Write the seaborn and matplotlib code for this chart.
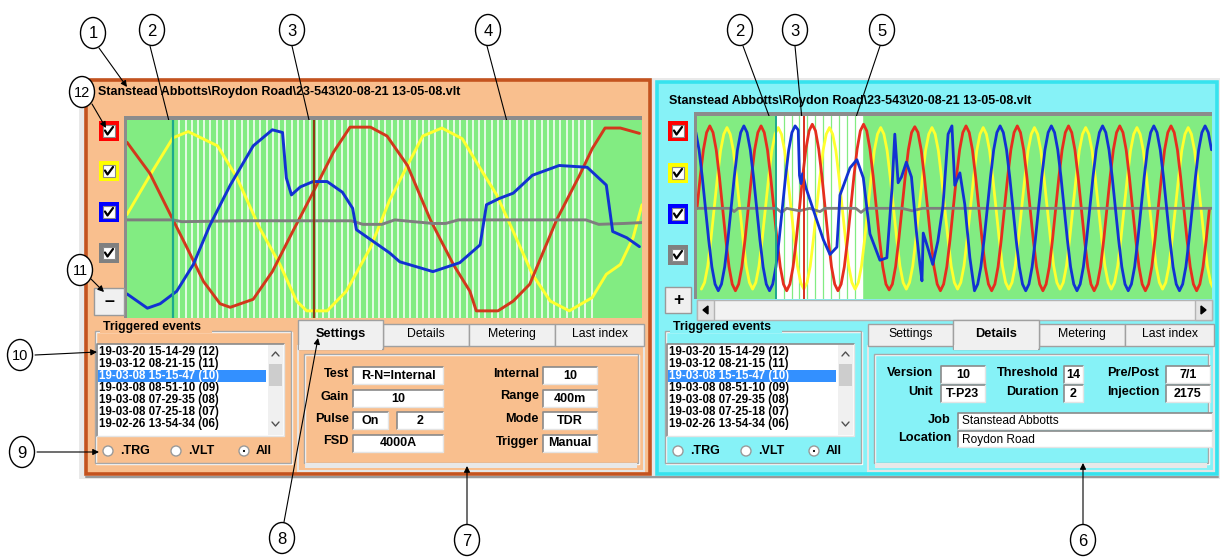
import numpy as np
import pandas as pd
import matplotlib.pyplot as plt
import seaborn as sns
from matplotlib.patches import Rectangle, Ellipse, Circle

sns.set_style("white")
plt.rcParams['font.family'] = ['Liberation Sans', 'DejaVu Sans']

# ---------------- data ----------------
title = "Stanstead Abbotts\\Roydon Road\\23-543\\20-08-21 13-05-08.vlt"

events = ["19-03-20 15-14-29 (12)", "19-03-12 08-21-15 (11)", "19-03-08 15-15-47 (10)",
          "19-03-08 08-51-10 (09)", "19-03-08 07-29-35 (08)", "19-03-08 07-25-18 (07)",
          "19-02-26 13-54-34 (06)"]
selected_event = 2
tabs = ["Settings", "Details", "Metering", "Last index"]

settings_left = [("Test", "R-N=Internal"), ("Gain", "10"), ("Pulse", "On"), ("FSD", "4000A")]
pulse_count = "2"
settings_right = [("Internal", "10"), ("Range", "400m"), ("Mode", "TDR"), ("Trigger", "Manual")]

details_row1 = [("Version", "10"), ("Threshold", "14"), ("Pre/Post", "7/1")]
details_row2 = [("Unit", "T-P23"), ("Duration", "2"), ("Injection", "2175")]
details_text = [("Job", "Stanstead Abbotts"), ("Location", "Roydon Road")]

# zoomed waveform (left), time in ms, amplitude relative to full scale
left_t_yellow = [0.0, 1.8, 3.6, 4.8, 7.1, 8.6, 10.4, 12.0, 13.3, 14.1, 15.7, 17.2, 19.1, 20.6, 22.0,
                 23.2, 24.7, 26.3, 27.7, 29.0, 30.3, 31.8, 33.2, 34.7, 36.5, 37.6, 38.7, 39.7, 40.4]
left_v_yellow = [0.06, 0.50, 0.92, 0.99, 0.83, 0.48, -0.09, -0.50, -0.91, -1.02, -1.02, -0.80, -0.31, 0.22, 0.61,
                 0.94, 1.03, 0.91, 0.58, 0.28, -0.13, -0.61, -0.91, -1.02, -0.87, -0.61, -0.50, -0.20, 0.17]
left_t_red = [0.0, 1.8, 3.4, 4.7, 6.0, 7.3, 8.1, 9.9, 11.4, 13.0, 14.6, 16.2, 17.5, 19.1, 20.4,
              22.0, 23.8, 25.6, 26.9, 27.4, 29.1, 30.3, 31.6, 33.7, 35.5, 36.5, 37.5, 38.7, 40.2]
left_v_red = [0.87, 0.52, 0.06, -0.31, -0.69, -0.94, -0.98, -0.89, -0.58, -0.13, 0.31, 0.76, 1.04, 1.04, 0.94,
              0.61, 0.0, -0.50, -0.80, -1.02, -1.02, -0.91, -0.72, 0.0, 0.50, 0.80, 1.03, 1.03, 0.97]
left_t_blue = [0.0, 1.6, 2.6, 3.9, 5.2, 6.5, 8.1, 9.9, 11.4, 12.2, 12.5, 12.9, 13.6, 14.6, 15.7, 16.9, 17.7,
               18.0, 19.3, 20.6, 21.4, 24.0, 26.1, 27.7, 28.2, 29.2, 30.3, 31.8, 33.9, 36.1, 37.6, 38.1, 39.2, 40.2]
left_v_blue = [-0.83, -0.99, -0.94, -0.80, -0.50, -0.06, 0.39, 0.83, 1.01, 0.98, 0.47, 0.28, 0.37, 0.43, 0.43, 0.31, 0.13,
               -0.11, -0.24, -0.37, -0.47, -0.58, -0.48, -0.28, 0.17, 0.24, 0.30, 0.50, 0.61, 0.59, 0.39, -0.13, -0.20, -0.30]
left_t_gray = [0.0, 3.6, 4.3, 9.0, 17.6, 18.5, 20.0, 21.0, 24.0, 25.0, 26.0, 36.0, 37.0, 39.0, 40.4]
left_v_gray = [0.0, 0.0, -0.02, -0.01, -0.01, -0.05, -0.05, 0.0, -0.04, -0.04, 0.0, 0.0, -0.05, -0.04, -0.03]
left_cursors = [3.6, 14.7]

# full record (right), one sample every 1.25 ms from the given start time
SAMPLE_MS = 1.25
right_start_red = 0.0
right_v_red = [0.0, 0.38, 0.71, 0.92, 1.0, 0.92, 0.71, 0.38, 0.0, -0.38, -0.71, -0.92, -1.0, -0.92, -0.71, -0.38,
               0.0, 0.38, 0.71, 0.92, 1.0, 0.92, 0.71, 0.38, 0.0, -0.38, -0.71, -0.92, -1.0, -0.92, -0.71, -0.38,
               0.0, 0.39, 0.72, 0.94, 1.02, 0.94, 0.72, 0.39, 0.0, -0.38, -0.71, -0.92, -1.0, -0.92, -0.71, -0.38,
               0.0, 0.39, 0.72, 0.94, 1.02, 0.94, 0.72, 0.39, 0.0, -0.38, -0.71, -0.92, -0.99, -0.92, -0.71, -0.38,
               0.0, 0.38, 0.71, 0.92, 0.99, 0.92, 0.71, 0.38, 0.0, -0.38, -0.71, -0.92, -1.0, -0.92, -0.71, -0.38,
               0.0, 0.38, 0.71, 0.92, 1.0, 0.92, 0.71, 0.38, 0.0, -0.38, -0.71, -0.92, -1.0, -0.92, -0.71, -0.38,
               0.0, 0.38, 0.71, 0.92, 1.0, 0.92, 0.71, 0.38, 0.0, -0.38, -0.71, -0.92, -1.0, -0.92, -0.71, -0.38,
               0.0, 0.38, 0.71, 0.92, 1.0, 0.92, 0.71, 0.38, 0.0, -0.38, -0.71, -0.92, -1.0, -0.92, -0.71, -0.38,
               0.0, 0.38, 0.71, 0.92, 1.0, 0.92, 0.71, 0.38, 0.0, -0.38, -0.71, -0.92, -1.0, -0.92, -0.71, -0.38,
               0.0, 0.38, 0.71, 0.92, 1.0, 0.92, 0.71, 0.38, 0.0, -0.38, -0.71, -0.92, -1.0, -0.92, -0.71, -0.38,
               0.0]
right_start_yellow = 1.7
right_v_yellow = [-0.98, -0.9, -0.7, -0.37, 0.0, 0.37, 0.7, 0.9, 0.98, 0.9, 0.7, 0.37, 0.0, -0.37, -0.7, -0.9,
                  -0.98, -0.9, -0.7, -0.37, 0.0, 0.37, 0.7, 0.9, 0.98, 0.9, 0.7, 0.37, 0.0, -0.37, -0.7, -0.9,
                  -0.98, -0.9, -0.7, -0.37, 0.0, 0.37, 0.7, 0.9, 0.98, 0.9, 0.7, 0.37, 0.0, -0.37, -0.7, -0.9,
                  -0.98, -0.9, -0.7, -0.37, 0.0, 0.37, 0.7, 0.9, 0.98, 0.9, 0.7, 0.37, 0.0, -0.37, -0.7, -0.9,
                  -0.98, -0.9, -0.7, -0.37, 0.0, 0.37, 0.7, 0.9, 0.98, 0.9, 0.7, 0.37, 0.0, -0.37, -0.7, -0.9,
                  -0.98, -0.9, -0.7, -0.37, 0.0, 0.37, 0.7, 0.9, 0.98, 0.9, 0.7, 0.37, 0.0, -0.37, -0.7, -0.9,
                  -0.98, -0.9, -0.7, -0.37, 0.0, 0.37, 0.7, 0.9, 0.98, 0.9, 0.7, 0.37, 0.0, -0.37, -0.7, -0.9,
                  -0.98, -0.9, -0.7, -0.37, 0.0, 0.37, 0.7, 0.9, 0.98, 0.9, 0.7, 0.37, 0.0, -0.37, -0.7, -0.9,
                  -0.98, -0.9, -0.7, -0.37, 0.0, 0.37, 0.7, 0.9, 0.98, 0.9, 0.7, 0.37, 0.0, -0.37, -0.7, -0.9,
                  -0.98, -0.9, -0.7, -0.37, 0.0, 0.37, 0.7, 0.9, 0.98, 0.9, 0.7, 0.37, 0.0, -0.37, -0.7, -0.9,
                  -0.98]
# blue: steady, then the disturbance (read point by point), then steady again
right_start_blue_pre = -1.7
right_v_blue_pre = [1.0, 0.92, 0.71, 0.38, 0.0, -0.38, -0.71, -0.92, -1.0, -0.92, -0.71, -0.38, 0.0, 0.38, 0.71, 0.92,
                    1.0, 0.92, 0.71, 0.38, 0.0, -0.38, -0.71, -0.92, -1.0, -0.92, -0.71, -0.38, 0.0, 0.38, 0.71, 0.92,
                    1.0]
right_t_blue_fault = [39.5, 40.0, 40.6, 41.2, 42.5, 45.2, 49.3, 51.9, 54.6, 55.8, 59.7, 62.4, 64.9, 67.5, 71.4, 74.1,
                      76.1, 77.2, 78.5, 79.8, 81.7, 83.7, 85.8, 87.0, 87.8, 88.3, 89.6, 92.0, 94.0, 96.0, 98.0, 99.5,
                      100.6, 102.6, 104.5, 106.5]
right_v_blue_fault = [0.95, 0.40, 0.30, 0.42, 0.25, 0.0, -0.38, -0.56, -0.47, 0.16, 0.49, 0.59, 0.37, -0.31, -0.63, -0.60,
                      0.24, 0.90, 0.31, 0.38, 0.56, 0.38, -0.34, -0.68, -0.88, -0.30, -0.43, -0.68, -0.40, 0.03, 0.90, 1.0,
                      0.28, 0.43, 0.05, -0.60]
right_start_blue_post = 108.3
right_v_blue_post = [-1.0, -0.92, -0.71, -0.38, 0.0, 0.38, 0.71, 0.92, 1.0, 0.92, 0.71, 0.38, 0.0, -0.38, -0.71, -0.92,
                     -1.0, -0.92, -0.71, -0.38, 0.0, 0.38, 0.71, 0.92, 1.0, 0.92, 0.71, 0.38, 0.0, -0.38, -0.71, -0.92,
                     -1.0, -0.92, -0.71, -0.38, 0.0, 0.38, 0.71, 0.92, 1.0, 0.92, 0.71, 0.38, 0.0, -0.38, -0.71, -0.92,
                     -1.0, -0.92, -0.71, -0.38, 0.0, 0.38, 0.71, 0.92, 1.0, 0.92, 0.71, 0.38, 0.0, -0.38, -0.71, -0.92,
                     -1.0, -0.92, -0.71, -0.38, 0.0, 0.38, 0.71, 0.92, 1.0, 0.92, 0.71]
right_t_gray = [0.0, 13.0, 14.5, 16.0, 31.0, 33.0, 35.0, 40.0, 44.0, 48.0, 50.0, 62.0, 64.0, 66.0, 80.0, 84.0,
                88.0, 95.0, 201.0]
right_v_gray = [0.0, 0.0, -0.04, 0.0, 0.0, -0.05, 0.0, -0.03, 0.0, -0.04, 0.0, 0.0, -0.05, 0.0, 0.0, -0.03,
                0.0, 0.0, 0.0]
right_cursors = [30.8, 41.7]
right_window = [30.8, 64.3]


def sample_times(start, values):
    return np.round(start + SAMPLE_MS * np.arange(len(values)), 2)


# ---------------- styling ----------------
W, H = 1220, 557
ORANGE, ORANGE_EDGE = "#F9BF8E", "#C4531F"
CYAN, CYAN_EDGE = "#86F2F7", "#36E3EE"
GREEN = "#82EC82"
BTN = "#F0F0F0"
PHASES = ["yellow", "red", "gray", "blue"]

fig = plt.figure(figsize=(W / 100, H / 100), dpi=100)
bg = fig.add_axes([0, 0, 1, 1])
bg.set_xlim(0, W)
bg.set_ylim(H, 0)
bg.axis('off')


def rect(x0, y0, x1, y1, fc, ec='none', lw=0, z=1):
    bg.add_patch(Rectangle((x0, y0), x1 - x0, y1 - y0, fc=fc, ec=ec, lw=lw, zorder=z))


def txt(x, y, s, size=8.5, weight='bold', ha='left', color='black', z=5, **kw):
    bg.text(x, y, s, fontsize=size, fontweight=weight, ha=ha, va='center', color=color, zorder=z, **kw)


def sunken(x0, y0, x1, y1, z=3):
    rect(x0, y0, x1, y1, 'white', z=z)
    bg.plot([x0, x0, x1], [y1, y0, y0], color='#8A8A8A', lw=1.2, zorder=z + 0.1)
    bg.plot([x1, x1, x0], [y0, y1, y1], color='#E4E4E4', lw=1.0, zorder=z + 0.1)


def field(x0, y0, x1, y1, s, weight='bold', ha='center', size=9):
    sunken(x0, y0, x1, y1)
    xt = (x0 + x1) / 2 if ha == 'center' else x0 + 4
    txt(xt, (y0 + y1) / 2 + 0.5, s, size=size, weight=weight, ha=ha)


def checkbox(cx, cy, color):
    rect(cx - 10, cy - 10, cx + 10, cy + 10, color, z=3)
    rect(cx - 6, cy - 6, cx + 6, cy + 6, 'white', ec='#8A8A8A', lw=0.8, z=4)
    bg.plot([cx - 4, cx - 1.5, cx + 4], [cy - 0.5, cy + 3.5, cy - 4], color='black', lw=1.6, zorder=5)


def button(x0, y0, x1, y1, s):
    rect(x0, y0, x1, y1, BTN, ec='#9A9A9A', lw=1, z=3)
    txt((x0 + x1) / 2, (y0 + y1) / 2, s, size=13, ha='center')


def etched(x0, y0, x1, y1, z=2):
    rect(x0 + 1, y0 + 1, x1 + 1, y1 + 1, 'none', ec='white', lw=1, z=z)
    rect(x0, y0, x1, y1, 'none', ec='#A8A8A8', lw=1, z=z)


def events_box(dx, face):
    etched(95 + dx, 331, 291 + dx, 463)
    rect(100 + dx, 322, 212 + dx, 333, face, z=2.5)
    txt(103 + dx, 327, "Triggered events", size=8.8)
    sunken(97 + dx, 344, 284 + dx, 436)
    rect(268 + dx, 345, 283 + dx, 435, '#F0F0F0', z=3.5)
    rect(269 + dx, 364, 282 + dx, 386, '#CDCDCD', z=3.6)
    bg.plot([272 + dx, 275.5 + dx, 279 + dx], [356, 352, 356], color='#505050', lw=1, zorder=4)
    bg.plot([272 + dx, 275.5 + dx, 279 + dx], [422, 426, 422], color='#505050', lw=1, zorder=4)
    for i, ev in enumerate(events):
        y = 352 + 12 * i
        color = 'black'
        if i == selected_event:
            rect(98 + dx, y - 6, 266 + dx, y + 6, '#3390FF', z=3.5)
            color = 'white'
        txt(99 + dx, y + 0.5, ev, size=8.3, color=color)
    for rx, lab, on in [(108, ".TRG", False), (176, ".VLT", False), (244, "All", True)]:
        bg.add_patch(Circle((rx + dx, 451), 5, fc='white', ec='#9A9A9A', lw=1, zorder=3))
        if on:
            bg.add_patch(Circle((rx + dx, 451), 1.8, fc='black', zorder=4))
        txt(rx + 12 + dx, 451, lab, size=9)


def tab_strip(x0, active, face):
    widths = [85, 86, 86, 89]
    x = x0
    for i, (name, w) in enumerate(zip(tabs, widths)):
        if i == active:
            rect(x, 320, x + w, 349, BTN, ec='#A0A0A0', lw=1, z=3.2)
            rect(x + 1, 345, x + w - 1, 350, BTN, z=3.3)
            txt(x + w / 2, 334, name, size=9.2, ha='center')
        else:
            rect(x, 324, x + w, 346, BTN, ec='#A0A0A0', lw=1, z=3)
            txt(x + w / 2, 334, name, size=8.8, weight='normal', ha='center')
        x += w
    rect(x0, 346, x, 471, face, ec='#E6E6E6', lw=1.5, z=2.6)
    etched(x0 + 6, 354, x - 6, 463, z=2.8)
    rect(x0 + 7, 463, x - 7, 468, '#E8E8E8', z=2.8)


def chart(x0, y0, x1, y1, t_sets, xmax, reds, lw):
    rect(x0 - 3, y0 - 4, x1, y0, '#8C8C8C', z=2)
    rect(x0 - 3, y0 - 4, x0, y1, '#8C8C8C', z=2)
    ax = fig.add_axes([x0 / W, 1 - y1 / H, (x1 - x0) / W, (y1 - y0) / H])
    ax.set_facecolor(GREEN)
    frames = []
    for name, (tt, vv) in zip(PHASES, t_sets):
        frames.append(pd.DataFrame({'t': tt, 'v': vv, 'phase': name}))
    df = pd.concat(frames, ignore_index=True)
    pal = {'yellow': '#FFFF2E', 'red': reds, 'gray': '#7E7E7E', 'blue': '#1232D2'}
    sns.lineplot(data=df, x='t', y='v', hue='phase', palette=pal, hue_order=PHASES,
                 estimator=None, sort=False, lw=lw, legend=False, ax=ax, zorder=3)
    ax.set_xlim(0, xmax)
    ax.set_ylim(-1.1, 1.12)
    ax.set_xticks([])
    ax.set_yticks([])
    ax.set_xlabel('')
    ax.set_ylabel('')
    for s in ax.spines.values():
        s.set_visible(False)
    return ax


# background panels
rect(79, 78, 1220, 479, '#E9E9E9', z=0.5)
rect(86, 80, 650, 474, ORANGE, ec=ORANGE_EDGE, lw=2.6, z=1)
rect(657, 82, 1217, 474, CYAN, ec=CYAN_EDGE, lw=2.6, z=1)
bg.plot([86, 1218], [477, 477], color='#9A9A9A', lw=1.5, zorder=1)

txt(98, 92, title, size=9)
txt(669, 101, title, size=9)

for cy, col in zip([131, 171, 212, 253], ['#FF0000', '#FFFF00', '#0000FF', '#808080']):
    checkbox(109, cy, col)
for cy, col in zip([131, 173, 214, 255], ['#FF0000', '#FFFF00', '#0000FF', '#808080']):
    checkbox(678, cy, col)
button(94, 288, 124, 315, "\u2013")
button(665, 287, 691, 313, "+")

events_box(0, ORANGE)
events_box(570, CYAN)

# left chart
axl = chart(127, 120, 642, 318,
            [(left_t_yellow, left_v_yellow), (left_t_red, left_v_red),
             (left_t_gray, left_v_gray), (left_t_blue, left_v_blue)],
            40.4, '#D2381C', 2.1)
axl.vlines(np.arange(4.1, 36.9, 0.49), -1.2, 1.2, color='white', lw=1.1, zorder=1)
axl.axvline(left_cursors[0], color='#1DA88E', lw=1.6, zorder=5)
axl.axvline(left_cursors[1], color='#8E3A12', lw=1.6, zorder=5)

# right chart
right_t_blue = np.concatenate([sample_times(right_start_blue_pre, right_v_blue_pre), right_t_blue_fault,
                               sample_times(right_start_blue_post, right_v_blue_post)])
right_v_blue = right_v_blue_pre + right_v_blue_fault + right_v_blue_post
axr = chart(697, 116, 1212, 299,
            [(sample_times(right_start_yellow, right_v_yellow), right_v_yellow),
             (sample_times(right_start_red, right_v_red), right_v_red),
             (right_t_gray, right_v_gray), (right_t_blue, right_v_blue)],
            201.0, '#E62E1E', 2.0)
axr.axvspan(right_window[0], right_window[1], color='white', zorder=0.5)
axr.vlines(np.arange(right_window[0] + 3.0, right_window[1], 3.1), -1.2, 1.2, color=GREEN, lw=0.9, zorder=1)
axr.axvline(right_cursors[0], color='#1DA88E', lw=1.4, zorder=5)
axr.axvline(right_cursors[1], color='#D8301E', lw=1.4, zorder=5)

# right scrollbar
rect(697, 300, 1212, 320, '#F2F2F2', ec='#B4B4B4', lw=1, z=2)
rect(697, 300, 714, 320, '#E4E4E4', ec='#B4B4B4', lw=1, z=2.1)
rect(1195, 300, 1212, 320, '#E4E4E4', ec='#B4B4B4', lw=1, z=2.1)
bg.add_patch(plt.Polygon([[703, 310], [708, 306], [708, 314]], color='black', zorder=3))
bg.add_patch(plt.Polygon([[1206, 310], [1201, 306], [1201, 314]], color='black', zorder=3))

# tabs
tab_strip(298, 0, ORANGE)
tab_strip(868, 1, CYAN)

# settings page
for i, (lab, val) in enumerate(settings_left):
    y = 375 + 22.5 * i
    txt(349, y - 1, lab, size=9.2, ha='right')
    if lab == "Pulse":
        field(353, y - 8, 388, y + 9, val)
        field(397, y - 8, 443, y + 9, pulse_count)
    else:
        field(353, y - 8, 443, y + 9, val)
for i, (lab, val) in enumerate(settings_right):
    y = 375 + 22.5 * i
    txt(539, y - 1, lab, size=9.2, ha='right')
    field(543, y - 8, 597, y + 9, val)

# details page
for y, row in [(374, details_row1), (393, details_row2)]:
    for (lab, val), (lx, bx0, bx1) in zip(row, [(933, 941, 985), (1059, 1064, 1083), (1159, 1166, 1210)]):
        txt(lx, y - 1, lab, size=9.2, ha='right')
        field(bx0, y - 8, bx1, y + 9, val)
for i, (lab, val) in enumerate(details_text):
    y = 421 + 18 * i
    txt(951, y - 1, lab, size=9.2, ha='right')
    field(958, y - 8, 1212, y + 8, val, weight='normal', ha='left', size=8.6)

# callouts
callouts = [("1", 93, 33, (99, 48), (127, 87)), ("2", 152, 30, (150, 46), (172, 133)),
            ("3", 292, 30, (292, 46), (312, 133)), ("4", 488, 30, (487, 46), (510, 133)),
            ("12", 82, 92, (92, 104), (106, 128)), ("11", 80, 270, (91, 279), (104, 292)),
            ("10", 20, 355, (35, 355), (97, 352)), ("9", 22, 452, (37, 452), (99, 452)),
            ("8", 282, 538, (284, 522), (318, 338)), ("7", 467, 540, (467, 524), (467, 466)),
            ("6", 1083, 540, (1083, 524), (1083, 463)), ("2", 740, 30, (743, 46), (775, 132)),
            ("3", 795, 30, (795, 46), (803, 130)), ("5", 882, 30, (880, 46), (850, 135))]
for num, cx, cy, start, end in callouts:
    bg.add_patch(Ellipse((cx, cy), 25, 31, fc='white', ec='black', lw=1, zorder=6))
    txt(cx, cy + 1, num, size=12 if len(num) == 1 else 10.5, weight='normal', ha='center', z=7)
    bg.annotate('', xy=end, xytext=start, zorder=8,
                arrowprops=dict(arrowstyle='-|>', color='black', lw=0.8, mutation_scale=9, shrinkA=0, shrinkB=0))

fig.savefig('out.png', dpi=100)
